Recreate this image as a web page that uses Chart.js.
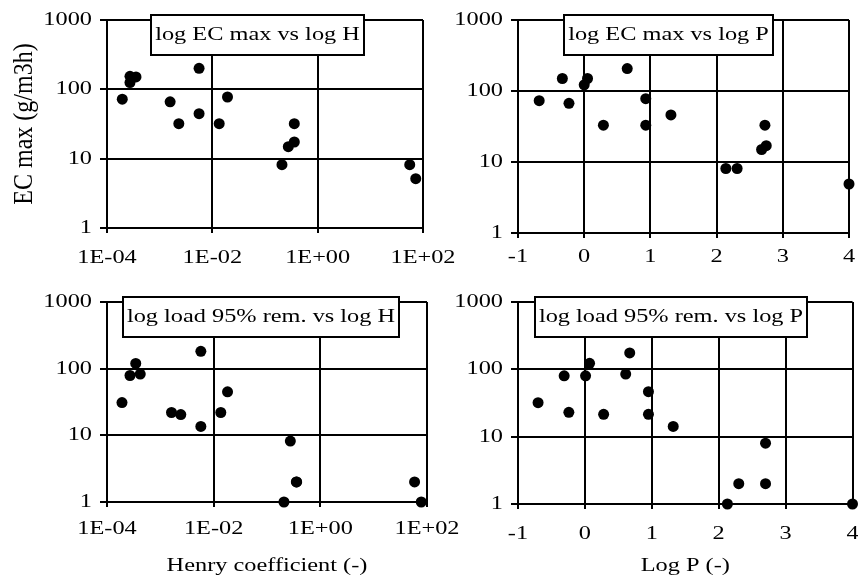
<!DOCTYPE html>
<html>
<head>
<meta charset="utf-8">
<script src="https://cdn.jsdelivr.net/npm/chart.js@4.4.0/dist/chart.umd.min.js"></script>
<style>
  html, body { margin: 0; background: #fff; }
  #wrap { position: relative; width: 858px; height: 581px; overflow: hidden; }
  #wrap canvas { position: absolute; }
</style>
</head>
<body>
<div id="wrap">
  <canvas id="c1" width="470" height="290" style="left:0;top:0"></canvas>
  <canvas id="c2" width="418" height="290" style="left:440px;top:0"></canvas>
  <canvas id="c3" width="470" height="291" style="left:0;top:290px"></canvas>
  <canvas id="c4" width="418" height="291" style="left:440px;top:290px"></canvas>
</div>
<script>
// ---- ticks ----
const yTicks = [1, 10, 100, 1000];
const yTickLabels = ["1", "10", "100", "1000"];
const henryTicks = [1e-4, 1e-2, 1e0, 1e2];
const henryTickLabels = ["1E-04", "1E-02", "1E+00", "1E+02"];
const logPTicks = [-1, 0, 1, 2, 3, 4];
const logPTickLabels = ["-1", "0", "1", "2", "3", "4"];

// ---- texts ----
const panelTitles = [
  "log EC max vs log H",
  "log EC max vs log P",
  "log load 95% rem. vs log H",
  "log load 95% rem. vs log P"
];
const yTitle = "EC max (g/m3h)";
const henryTitle = "Henry coefficient (-)";
const logPTitle = "Log P (-)";

// ---- data ----
// EC max vs Henry coefficient
const henryEC = [1.95e-4, 2.73e-4, 2.73e-4, 3.55e-4, 1.58e-3, 2.31e-3, 5.6e-3, 5.6e-3, 1.35e-2, 1.94e-2, 0.21, 0.277, 0.36, 0.36, 56, 72.8];
const ecMaxH  = [72, 154, 125, 151, 66, 32, 201, 44.6, 32, 77.5, 8.2, 14.9, 17.4, 32, 8.2, 5.15];
// EC max vs log P
const logPEC  = [-0.68, -0.33, -0.23, 0.0, 0.05, 0.29, 0.65, 0.93, 0.93, 1.31, 2.14, 2.31, 2.68, 2.73, 2.75, 4.0];
const ecMaxP  = [73, 150, 67, 122, 150, 33, 207, 78, 33, 46, 8.1, 8.1, 15, 33, 17, 4.9];
// load at 95% removal vs Henry coefficient
const henryLoad = [1.91e-4, 2.7e-4, 3.46e-4, 4.2e-4, 1.62e-3, 2.42e-3, 5.75e-3, 5.75e-3, 1.36e-2, 1.82e-2, 0.208, 0.274, 0.355, 0.36, 58.5, 78];
const loadH     = [31, 79, 120, 83, 22, 20.5, 182, 13.6, 22, 45, 1, 8.2, 2, 2, 2, 1];
// load at 95% removal vs log P
const logPLoad = [-0.70, -0.31, -0.24, 0.01, 0.07, 0.28, 0.61, 0.67, 0.95, 0.95, 1.32, 2.13, 2.30, 2.70, 2.70, 4.0];
const loadP    = [32, 80, 23, 80, 123, 21.5, 85, 175, 46.6, 21.5, 14.2, 1, 2, 8, 2, 1];

const FONT = "'Liberation Serif', 'Times New Roman', serif";
const TEXT_STRETCH = 1.28; // lettering in the figure is widened horizontally
const ROT_STRETCH = 1.15;  // same, for the sideways y title

Chart.defaults.color = "#000";
Chart.defaults.font.family = FONT;
Chart.defaults.font.size = 19;

// widen text horizontally on screen like the original
const wideText = {
  id: "wideText",
  beforeInit(chart) {
    const ctx = chart.ctx;
    const fill = CanvasRenderingContext2D.prototype.fillText;
    ctx.fillText = function (txt, x, y) {
      const m = this.getTransform();
      this.save();
      this.translate(x, y);
      if (Math.abs(m.b) < 0.01) this.scale(TEXT_STRETCH, 1);
      else this.scale(1, ROT_STRETCH);
      fill.call(this, txt, 0, 0);
      this.restore();
    };
  }
};

// boxed title sitting on top of the plot
const titleBox = {
  id: "titleBox",
  afterDraw(chart, args, opts) {
    const { ctx, chartArea } = chart;
    ctx.save();
    ctx.font = "19px " + FONT;
    const w = Math.round(ctx.measureText(opts.text).width * TEXT_STRETCH + 8);
    const h = 40;
    const x = Math.round(chartArea.left + opts.dx);
    const y = Math.round(chartArea.top - 5);
    ctx.fillStyle = "#fff";
    ctx.fillRect(x, y, w, h);
    ctx.lineWidth = 2;
    ctx.strokeStyle = "#000";
    ctx.strokeRect(x, y, w, h);
    ctx.fillStyle = "#000";
    ctx.textAlign = "center";
    ctx.textBaseline = "middle";
    ctx.fillText(opts.text, x + w / 2, y + h / 2);
    ctx.restore();
  }
};

// canvas rect + plot box in page px
const panels = [
  { id: "c1", cv: [0, 0, 470, 290],   plot: [107, 20, 423, 228],  xs: henryEC,   ys: ecMaxH, log: true,  title: panelTitles[0], dx: 44, xPad: 14, yTitle: yTitle },
  { id: "c2", cv: [440, 0, 418, 290], plot: [518, 20, 849, 233],  xs: logPEC,    ys: ecMaxP, log: false, title: panelTitles[1], dx: 46, xPad: 8 },
  { id: "c3", cv: [0, 290, 470, 291], plot: [107, 302, 427, 502], xs: henryLoad, ys: loadH,  log: true,  title: panelTitles[2], dx: 16, xPad: 11, xTitle: henryTitle },
  { id: "c4", cv: [440, 290, 418, 291], plot: [518, 302, 853, 504], xs: logPLoad, ys: loadP, log: false, title: panelTitles[3], dx: 17, xPad: 14, xTitle: logPTitle }
];

const gridOpts = (tl) => ({ color: "#000", lineWidth: 2, tickLength: tl });
const borderOpts = { color: "#000", width: 2 };

panels.forEach(p => {
  const [cl, ct, cw, ch] = p.cv;
  const [L, T, R, B] = p.plot;
  const xTicks = p.log ? henryTicks : logPTicks;
  const xLabels = p.log ? henryTickLabels : logPTickLabels;

  new Chart(document.getElementById(p.id), {
    type: "scatter",
    data: {
      datasets: [{
        data: p.xs.map((x, i) => ({ x: x, y: p.ys[i] })),
        backgroundColor: "#000",
        borderColor: "#000",
        pointRadius: 5.5,
        pointBorderWidth: 0,
        clip: false
      }]
    },
    options: {
      responsive: false,
      animation: false,
      events: [],
      layout: { padding: { left: 0, top: T - ct, right: cl + cw - R, bottom: 0 } },
      plugins: {
        legend: { display: false },
        tooltip: { enabled: false },
        titleBox: { text: p.title, dx: p.dx }
      },
      scales: {
        x: {
          type: p.log ? "logarithmic" : "linear",
          min: xTicks[0],
          max: xTicks[xTicks.length - 1],
          afterBuildTicks: s => { s.ticks = xTicks.map(v => ({ value: v })); },
          afterFit: s => {
            s.height = ct + ch - B;
            s.paddingLeft = 0;   // keep the plot box fixed; labels may overhang
            s.paddingRight = 0;
          },
          ticks: { callback: (v, i) => xLabels[i], autoSkip: false, maxRotation: 0, padding: p.xPad },
          grid: gridOpts(5),
          border: borderOpts,
          title: p.xTitle
            ? { display: true, text: p.xTitle, font: { size: 19 }, padding: { top: 4, bottom: 4 } }
            : { display: false }
        },
        y: {
          type: "logarithmic",
          min: yTicks[0],
          max: yTicks[yTicks.length - 1],
          afterBuildTicks: s => { s.ticks = yTicks.map(v => ({ value: v })); },
          afterFit: s => {
            s.width = L - cl;
            s.paddingTop = 0;
            s.paddingBottom = 0;
          },
          ticks: { callback: (v, i) => yTickLabels[i], autoSkip: false, padding: 8 },
          grid: gridOpts(7),
          border: borderOpts,
          title: p.yTitle
            ? { display: true, text: p.yTitle, font: { size: 24 }, padding: { top: 10, bottom: 0 } }
            : { display: false }
        }
      }
    },
    plugins: [wideText, titleBox]
  });
});
</script>
</body>
</html>
